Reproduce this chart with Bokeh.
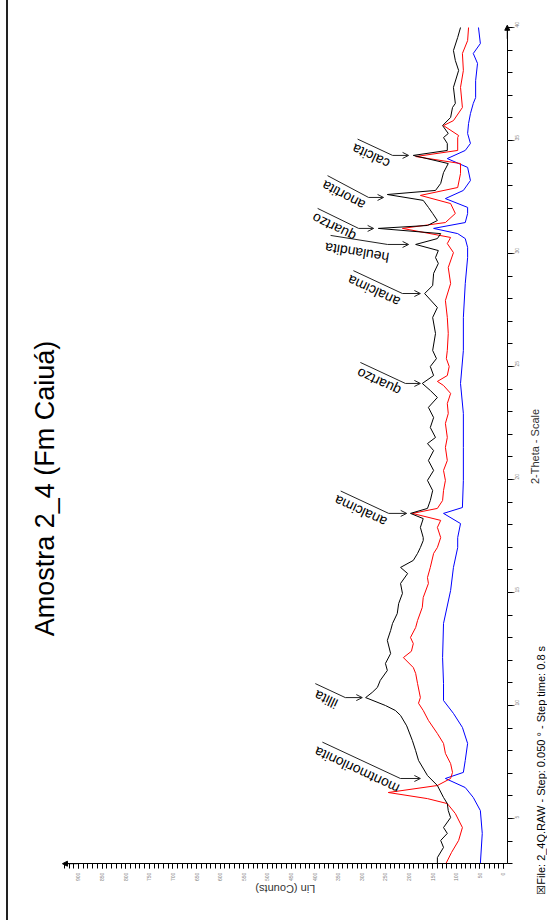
import math
from bokeh.plotting import figure
from bokeh.models import ColumnDataSource, Range1d, SingleIntervalTicker, Label, Arrow, OpenHead, NormalHead
from bokeh.core.properties import value
from bokeh.embed import file_html
from bokeh.resources import INLINE

# ---------------- data (2-theta in degrees, intensity in counts) ----------------
black_theta = [3.0, 3.27, 3.72, 4.03, 4.34, 4.6, 5.04, 5.35, 5.66, 5.93, 6.46, 6.9, 7.57, 8.0, 8.45,
               9.1, 9.56, 9.78, 10.0, 10.35, 10.58, 10.8, 11.11, 11.55, 11.86, 12.3, 12.88, 13.32,
               13.63, 14.07, 14.51, 14.96, 15.4, 15.84, 16.11, 16.42, 16.73, 16.99, 17.3, 17.43, 17.88,
               18.27, 18.5, 18.72, 19.07, 19.51, 19.96, 20.4, 20.84, 21.28, 21.59, 21.86, 22.3, 22.74,
               23.19, 23.63, 23.94, 24.25, 24.6, 25.0, 25.35, 25.71, 26.46, 27.17, 27.61, 28.23, 28.58,
               29.12, 29.56, 29.82, 30.13, 30.4, 30.66, 30.88, 31.11, 31.24, 31.46, 31.77, 32.04, 32.35,
               32.61, 32.79, 33.1, 33.58, 33.98, 34.34, 34.56, 34.87, 35.13, 35.31, 35.66, 36.02, 36.46,
               36.64, 37.35, 38.1, 38.54, 38.98, 39.56, 40.0]
black_counts = [140, 140, 127, 133, 119, 127, 112, 117, 119, 127, 140, 161, 180, 186, 193,
                205, 218, 229, 250, 292, 278, 267, 261, 246, 250, 239, 246, 239,
                235, 225, 222, 214, 218, 203, 218, 191, 182, 176, 170, 170, 176,
                170, 197, 161, 155, 150, 161, 148, 159, 148, 161, 144, 155, 148,
                159, 140, 155, 172, 148, 155, 142, 150, 144, 150, 140, 167, 150,
                148, 138, 144, 138, 186, 140, 133, 265, 161, 140, 150, 159, 170,
                246, 144, 133, 127, 117, 191, 119, 119, 127, 117, 129, 112, 108,
                102, 106, 95, 102, 106, 97, 91]

red_theta = [3.0, 3.5, 4.03, 4.6, 5.22, 5.66, 5.88, 6.15, 6.46, 6.77, 7.04, 7.43, 7.88, 8.32, 8.76,
             9.34, 9.78, 10.1, 10.35, 10.97, 11.42, 11.68, 12.12, 12.4, 12.74, 13.01, 13.45, 13.76,
             14.34, 14.78, 15.4, 15.66, 16.11, 16.73, 16.99, 17.43, 17.88, 18.19, 18.5, 18.72, 19.07,
             19.51, 19.96, 20.4, 20.84, 21.42, 21.86, 22.48, 22.92, 23.36, 23.81, 24.16, 24.34, 24.6,
             25.0, 25.35, 25.71, 26.46, 27.17, 27.92, 28.67, 29.38, 30.04, 30.44, 30.71, 31.11, 31.37,
             31.77, 32.21, 32.57, 32.92, 33.54, 33.98, 34.29, 34.56, 35.13, 35.22, 35.66, 35.88, 36.46,
             37.35, 38.1, 38.85, 39.42, 40.0]
red_counts = [122, 110, 95, 87, 102, 119, 161, 244, 140, 112, 108, 112, 123, 127, 140,
              159, 170, 180, 176, 182, 186, 191, 212, 195, 191, 197, 186, 182,
              172, 170, 159, 161, 155, 148, 140, 133, 140, 133, 193, 140, 129,
              127, 123, 127, 119, 123, 119, 123, 117, 119, 112, 127, 140, 119,
              115, 121, 119, 117, 119, 123, 112, 117, 106, 119, 112, 214, 123,
              102, 112, 176, 97, 91, 91, 186, 97, 97, 95, 127, 106, 87,
              91, 85, 87, 76, 74]

blue_theta = [3.0, 4.34, 5.35, 5.93, 6.37, 6.77, 7.04, 7.57, 8.32, 9.03, 9.65, 10.22, 10.97, 12.12,
              13.63, 15.09, 16.11, 16.99, 17.43, 18.05, 18.5, 18.76, 19.96, 21.42, 22.92, 24.25, 25.71,
              27.17, 28.67, 29.82, 30.27, 30.66, 30.88, 31.11, 31.37, 31.77, 32.04, 32.43, 32.79, 33.23,
              33.81, 34.2, 34.56, 34.87, 35.31, 35.75, 36.19, 36.64, 36.9, 37.65, 38.41, 38.85, 39.29, 40.0]
blue_counts = [49, 45, 49, 64, 81, 123, 85, 81, 76, 87, 106, 127, 127, 129,
               127, 112, 106, 97, 97, 91, 127, 87, 85, 85, 85, 91, 85,
               85, 81, 76, 76, 81, 97, 148, 81, 76, 76, 123, 85, 70,
               76, 119, 81, 70, 76, 74, 70, 64, 59, 59, 55, 64, 49, 53]

# peak annotations: label, 2-theta and counts at the arrow tip
ann_text = ["montmorilonita", "illita", "analcima", "quartzo", "analcima", "heulandita",
            "quartzo", "anortita", "calcita"]
ann_theta = [6.77, 10.35, 18.5, 24.25, 28.23, 30.4, 31.11, 32.48, 34.34]
ann_count = [176, 299, 205, 176, 176, 201, 275, 254, 201]

title_text = "Amostra 2_4 (Fm Caiuá)"
x_title = "Lin (Counts)"
y_title = "2-Theta - Scale"
footer_text = "\u2612File: 2_4Q.RAW - Step: 0.050 \u00b0 - Step time: 0.8 s"

# ---------------- styles / geometry ----------------
FONT = "Liberation Sans"
C_MIN, C_MAX = -8, 932          # extent of the counts axis
T_MIN, T_MAX = 3, 40            # extent of the 2-theta axis
CPX = 900 / 425.0               # counts per screen pixel
TPX = 35 / 791.0                # degrees per screen pixel
# the plotting frame covers the whole canvas; axes are drawn at fixed locations
X_VIEW = (495 * CPX, -46 * CPX)
Y_VIEW = (5 - 102 * TPX, 5 + 818 * TPX)

ann_shaft = [20, 17, 18, 15, 18, 21, 15, 15, 16]
ann_lead = [78, 30, 48, 45, 49, 57, 41, 41, 35]
ann_tilt = [25, 25, 25, 25, 25, 9, 26, 28, 25]
ann_gap = [11, 10, 10, 10, 10, 13, 10, 10, 10]

p = figure(width=541, height=920, output_backend="svg", toolbar_location=None,
           x_range=Range1d(*X_VIEW), y_range=Range1d(*Y_VIEW),
           y_axis_location="right",
           min_border_left=0, min_border_right=0, min_border_top=0, min_border_bottom=0)
p.styles = {"border-left": "2px solid #222", "margin-left": "6px"}
p.background_fill_color = "white"
p.border_fill_color = "white"
p.outline_line_color = None
p.xgrid.visible = False
p.ygrid.visible = False

# count axis (bottom, at 2-theta = 3)
xa = p.xaxis[0]
xa.fixed_location = T_MIN
xa.bounds = (C_MIN, C_MAX)
xa.ticker = SingleIntervalTicker(interval=50, num_minor_ticks=5)
xa.major_label_orientation = math.pi / 2
xa.major_label_text_font = FONT
xa.major_label_text_font_size = "5px"
xa.major_label_text_color = "#808080"
xa.major_label_standoff = 4
xa.major_tick_in = 0
xa.minor_tick_in = 0
xa.major_tick_out = 5
xa.minor_tick_out = 5
xa.axis_line_color = "black"
xa.major_tick_line_color = "black"
xa.minor_tick_line_color = "black"

# 2-theta axis (right, at counts = -8)
ya = p.yaxis[0]
ya.fixed_location = C_MIN
ya.bounds = (T_MIN, T_MAX)
ya.ticker = SingleIntervalTicker(interval=5, num_minor_ticks=5)
ya.major_label_orientation = math.pi / 2
ya.major_label_text_font = FONT
ya.major_label_text_font_size = "5px"
ya.major_label_text_color = "#808080"
ya.major_label_standoff = 3
ya.major_tick_in = 0
ya.minor_tick_in = 0
ya.major_tick_out = 7
ya.minor_tick_out = 5
ya.axis_line_color = "black"
ya.major_tick_line_color = "#555555"
ya.minor_tick_line_color = "black"

# series
p.line(blue_counts, blue_theta, line_color="#0000ff", line_width=1)
p.line(red_counts, red_theta, line_color="#ff0000", line_width=1)
p.line(black_counts, black_theta, line_color="#000000", line_width=1)

# peak annotations
tail_c, tail_t, lead_c, lead_t, txt_c, txt_t, txt_a = [], [], [], [], [], [], []
for c, t, s, L, tilt, g in zip(ann_count, ann_theta, ann_shaft, ann_lead, ann_tilt, ann_gap):
    a = math.radians(tilt)
    tc = c + s * CPX
    tail_c.append(tc)
    tail_t.append(t)
    lead_c.append(tc + L * CPX)
    lead_t.append(t + L * math.tan(a) * TPX)
    txt_c.append(tc + (L / 2 + g * math.sin(a)) * CPX)
    txt_t.append(t + (L / 2 * math.tan(a) - g * math.cos(a)) * TPX)
    txt_a.append(math.pi - a)

src = ColumnDataSource(dict(tip_c=ann_count, tip_t=ann_theta, tail_c=tail_c, tail_t=tail_t,
                            lead_c=lead_c, lead_t=lead_t, txt_c=txt_c, txt_t=txt_t,
                            txt_a=txt_a, text=ann_text))
p.segment(x0="tail_c", y0="tail_t", x1="lead_c", y1="lead_t", source=src,
          line_color="#222222", line_width=1)
p.add_layout(Arrow(end=OpenHead(size=6, line_width=1, line_color="#222222"),
                   x_start="tail_c", y_start="tail_t", x_end="tip_c", y_end="tip_t",
                   source=src, line_color="#222222", line_width=1))
p.text(x="txt_c", y="txt_t", text="text", angle="txt_a", source=src,
       text_font=value(FONT), text_font_size="14px", text_color="black",
       text_align="center", text_baseline="middle")

# axis end arrows
p.add_layout(Arrow(end=NormalHead(size=5, fill_color="black", line_color="black"),
                   x_start=C_MIN, y_start=T_MAX - 0.5, x_end=C_MIN, y_end=T_MAX + 0.1,
                   line_color="black", line_width=1))
p.add_layout(Arrow(end=NormalHead(size=5, fill_color="black", line_color="black"),
                   x_start=C_MAX - 30, y_start=T_MIN, x_end=C_MAX + 2, y_end=T_MIN,
                   line_color="black", line_width=1))

# title, axis titles and footer (placed in pixel offsets from the axes)
p.add_layout(Label(x=C_MAX + 18 * CPX, y=19.6, text=title_text, angle=math.pi / 2,
                   text_font=FONT, text_font_size="27px", text_color="black",
                   text_align="center", text_baseline="middle"))
p.add_layout(Label(x=(C_MIN + C_MAX) / 2, y=T_MIN - 25 * TPX, text=x_title, angle=math.pi,
                   text_font=FONT, text_font_size="11px", text_color="#333333",
                   text_align="center", text_baseline="middle"))
p.add_layout(Label(x=C_MIN - 28 * CPX, y=21.46, text=y_title, angle=math.pi / 2,
                   text_font=FONT, text_font_size="11px", text_color="#333333",
                   text_align="center", text_baseline="middle"))
p.add_layout(Label(x=C_MIN - 34 * CPX, y=T_MIN - 31 * TPX, text=footer_text, angle=math.pi / 2,
                   text_font=FONT, text_font_size="11px", text_color="black",
                   text_align="left", text_baseline="middle"))

open("out.html", "w").write(file_html(p, INLINE))
